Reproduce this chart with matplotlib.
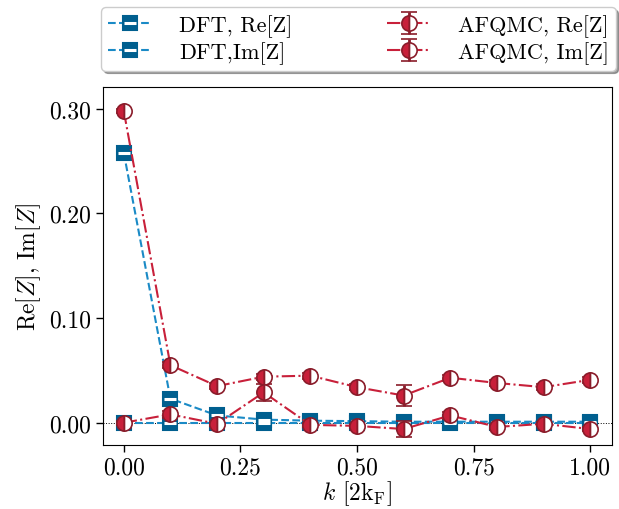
import matplotlib
matplotlib.use("Agg")
import matplotlib.pyplot as plt
from matplotlib.legend_handler import HandlerTuple
import numpy as np

plt.rcParams['font.family'] = 'serif'
plt.rcParams['font.serif'] = ['cmr10']
plt.rcParams['mathtext.fontset'] = 'cm'
plt.rcParams['axes.formatter.use_mathtext'] = True
plt.rcParams['axes.unicode_minus'] = False

k = [0.0, 0.1, 0.2, 0.3, 0.4, 0.5, 0.6, 0.7, 0.8, 0.9, 1.0]
dft_re = [0.258, 0.023, 0.007, 0.003, 0.002, 0.0015, 0.001, 0.001, 0.001, 0.001, 0.001]
dft_im = [0.0, 0.0, 0.0, 0.0, 0.0, 0.0, 0.0, 0.0, 0.0, 0.0, 0.0]
afqmc_re = [0.298, 0.055, 0.035, 0.044, 0.045, 0.034, 0.026, 0.043, 0.038, 0.034, 0.041]
afqmc_re_err = [0.002, 0.003, 0.003, 0.003, 0.003, 0.003, 0.010, 0.003, 0.003, 0.003, 0.003]
afqmc_im = [0.0, 0.008, -0.001, 0.029, -0.002, -0.003, -0.006, 0.007, -0.004, -0.001, -0.006]
afqmc_im_err = [0.002, 0.003, 0.002, 0.008, 0.002, 0.002, 0.008, 0.003, 0.002, 0.002, 0.002]

blue = '#1a8ac6'
blue_dark = '#005f8f'
red = '#c8203a'
red_dark = '#8a1c2a'

fig = plt.figure(figsize=(6.19, 5.10), dpi=100)
ax = fig.add_axes([0.166, 0.126, 0.823, 0.702])

ax.axhline(0, color='black', lw=0.7, ls=':', zorder=0)

def dft_series(y, label):
    ln, = ax.plot(k, y, ls='--', color=blue, marker='s', ms=10, mfc=blue_dark,
                  mec=blue_dark, mew=1.5, label=label, zorder=3)
    st, = ax.plot(k, y, ls='none', marker='_', ms=8, mew=2.2, mec='white', zorder=4)
    return (ln, st)

h1 = dft_series(dft_re, 'DFT, Re[Z]')
h2 = dft_series(dft_im, 'DFT,Im[Z]')

e1 = ax.errorbar(k, afqmc_re, yerr=afqmc_re_err, ls='-.', color=red, marker='o', ms=11,
                 mfc=red, mec=red_dark, fillstyle='left', markerfacecoloralt='white',
                 mew=1.2, ecolor=red_dark, elinewidth=2, capsize=6, capthick=2, zorder=5)
e2 = ax.errorbar(k, afqmc_im, yerr=afqmc_im_err, ls='-.', color=red, marker='o', ms=11,
                 mfc=red, mec=red_dark, fillstyle='left', markerfacecoloralt='white',
                 mew=1.2, ecolor=red_dark, elinewidth=2, capsize=6, capthick=2, zorder=5)

ax.set_xlim(-0.045, 1.047)
ax.set_ylim(-0.021, 0.321)
ax.set_xticks([0.0, 0.25, 0.5, 0.75, 1.0])
ax.set_yticks([0.0, 0.1, 0.2, 0.3])
ax.set_xticklabels(['0.00', '0.25', '0.50', '0.75', '1.00'])
ax.set_yticklabels(['0.00', '0.10', '0.20', '0.30'])
ax.tick_params(labelsize=17, direction='out', length=5, width=1)
ax.set_xlabel(r'$k$ [2k$_\mathrm{F}$]', fontsize=17, labelpad=0)
ax.set_ylabel(r'Re$[Z]$, Im$[Z]$', fontsize=17, labelpad=4)

ax.legend(handles=[h1, h2, e1, e2],
          labels=['DFT, Re[Z]', 'DFT,Im[Z]', 'AFQMC, Re[Z]', 'AFQMC, Im[Z]'],
          handler_map={tuple: HandlerTuple(ndivide=1)},
          ncol=2, loc='lower left',
          bbox_to_anchor=(-0.003, 1.045, 1.01, 0.2), mode='expand',
          fontsize=16, frameon=True, shadow=True, fancybox=True,
          handlelength=2.0, handletextpad=1.2, borderaxespad=0,
          labelspacing=0.2, borderpad=0.3)

fig.savefig('out.png', dpi=100)
